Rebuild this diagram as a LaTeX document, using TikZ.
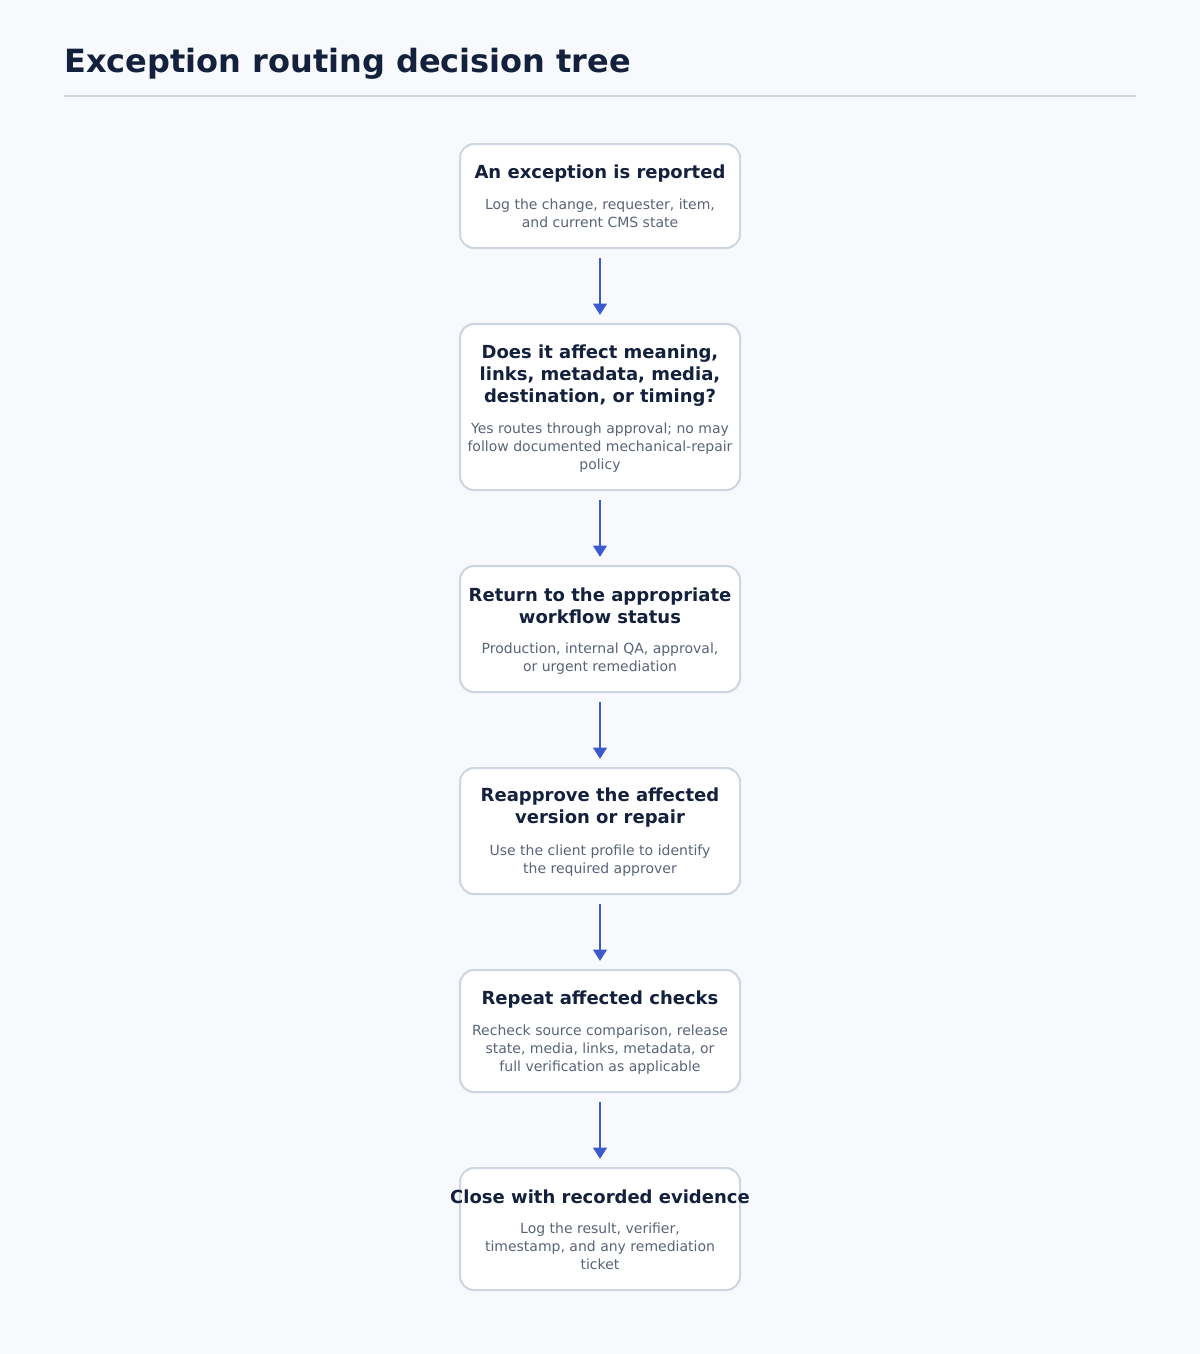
\documentclass[tikz,border=0pt]{standalone}
\usepackage{fontspec}
\setmainfont{DejaVu Sans}
\usetikzlibrary{arrows.meta}
\definecolor{bgc}{HTML}{F7F9FC}
\definecolor{borderc}{HTML}{CDD5E0}
\definecolor{titlec}{HTML}{13213D}
\definecolor{subc}{HTML}{5A6478}
\definecolor{arrowc}{HTML}{3B5BCC}
\tikzset{
  box/.style={draw=borderc, line width=1.5pt, fill=white, rounded corners=10.5pt,
    minimum width=210pt, inner sep=0pt},
  ttl/.style={text=titlec, font=\bfseries\fontsize{13.5pt}{16.5pt}\selectfont, align=center, inner sep=0pt},
  sub/.style={text=subc, font=\fontsize{10.5pt}{13.5pt}\selectfont, align=center, inner sep=0pt},
  flow/.style={draw=arrowc, line width=2pt, -{Triangle[width=10pt,length=8.5pt]},
    shorten <=6.75pt, shorten >=6pt},
}
\begin{document}
\begin{tikzpicture}[x=0.75pt,y=-0.75pt]
\useasboundingbox[fill=bgc] (0,0) rectangle (1200,1354);
\node[anchor=west, text=titlec, font=\bfseries\fontsize{24pt}{28pt}\selectfont, inner sep=0pt] (title) at (64,64) {Exception routing decision tree};
\coordinate (ruleL) at (64,96);
\coordinate (ruleR) at (1136,96);
\draw[draw=borderc, line width=1.5pt] (ruleL) -- (ruleR);

\node[box, minimum height=78pt] (b1) at (600,196) {};
\node[ttl] (t1) at (600,174) {An exception is reported};
\node[sub] (s1) at (600,213) {Log the change, requester, item,\\and current CMS state};

\node[box, minimum height=124.5pt] (b2) at (600,407) {};
\node[ttl] (t2) at (600,376) {Does it affect meaning,\\links, metadata, media,\\destination, or timing?};
\node[sub] (s2) at (600,448) {Yes routes through approval; no may\\follow documented mechanical-repair\\policy};

\node[box, minimum height=94.5pt] (b3) at (600,629) {};
\node[ttl] (t3) at (600,606) {Return to the appropriate\\workflow status};
\node[sub] (s3) at (600,659) {Production, internal QA, approval,\\or urgent remediation};

\node[box, minimum height=94.5pt] (b4) at (600,831) {};
\node[ttl] (t4) at (600,808) {Reapprove the affected\\version or repair};
\node[sub] (s4) at (600,861) {Use the client profile to identify\\the required approver};

\node[box, minimum height=91.5pt] (b5) at (600,1031) {};
\node[ttl] (t5) at (600,1000) {Repeat affected checks};
\node[sub] (s5) at (600,1050) {Recheck source comparison, release\\state, media, links, metadata, or\\full verification as applicable};

\node[box, minimum height=91.5pt] (b6) at (600,1229) {};
\node[ttl] (t6) at (600,1197) {Close with recorded evidence};
\node[sub] (s6) at (600,1246) {Log the result, verifier,\\timestamp, and any remediation\\ticket};

\draw[flow] (b1) -- (b2);
\draw[flow] (b2) -- (b3);
\draw[flow] (b3) -- (b4);
\draw[flow] (b4) -- (b5);
\draw[flow] (b5) -- (b6);
\end{tikzpicture}
\end{document}
